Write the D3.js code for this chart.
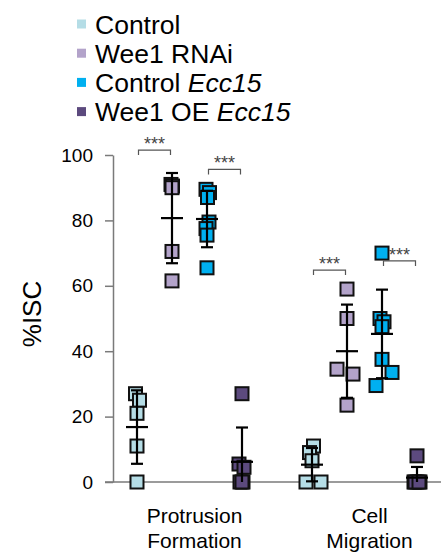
<!DOCTYPE html>
<html><head><meta charset="utf-8">
<script src="https://cdn.jsdelivr.net/npm/d3@7"></script>
<style>
html,body{margin:0;padding:0;background:#fff;}
svg{display:block;font-family:"Liberation Sans",Arial,sans-serif;}
</style></head>
<body>
<svg id="chart" width="441" height="560"></svg>
<script>
// ---- data ----
const categories = ["Protrusion Formation", "Cell Migration"];
const categoryLines = [["Protrusion", "Formation"], ["Cell", "Migration"]];
const seriesNames = ["Control", "Wee1 RNAi", "Control Ecc15", "Wee1 OE Ecc15"];
const legendPlain = ["Control", "Wee1 RNAi", "Control ", "Wee1 OE "];
const legendItalic = ["", "", "Ecc15", "Ecc15"];
const seriesColors = ["#b5dde6", "#b3a3ca", "#00b0f0", "#5c4a7e"];
// values per series: [Protrusion Formation, Cell Migration]
const controlValues     = [[27, 25, 21, 11, 0], [11, 9, 6.5, 0, 0]];
const wee1RnaiValues    = [[91, 90.5, 90, 70.5, 61.5], [59, 50, 34.5, 33, 23.5]];
const controlEccValues  = [[89.5, 88.5, 87, 79.5, 77.5, 75.5, 65.5], [70, 50, 49, 47.5, 37.5, 33.5, 29.5]];
const wee1OeEccValues   = [[27, 5.5, 4.5, 0, 0, 0], [8, 0, 0, 0, 0, 0]];
const yTicks = [0, 20, 40, 60, 80, 100];
const sigCategory = ["Protrusion Formation", "Protrusion Formation", "Cell Migration", "Cell Migration"];
const sigFrom = ["Control", "Control Ecc15", "Control", "Control Ecc15"];
const sigTo = ["Wee1 RNAi", "Wee1 OE Ecc15", "Wee1 RNAi", "Wee1 OE Ecc15"];
const sigLevel = [101.5, 95.6, 64.8, 67.6];
const sigLabel = ["***", "***", "***", "***"];

const allValues = [controlValues, wee1RnaiValues, controlEccValues, wee1OeEccValues];

// ---- layout (horizontal jitter of overlapping squares, px) ----
const jitter = [
  [[-1.5, 2.5, 0, 0, 0], [1.5, -2.5, 0, -6, 9]],
  [[-1, 0.5, 0, 0, 0], [0, 0, -10, 6, 0]],
  [[-1, 2.5, 0.5, 2, -1, 0, 0], [0, -2, 2, 0, 0, 10, -6]],
  [[0, -3, 2, -2, 1, 0], [0, -3, 3, 0, -2, 2]]
];

const svg = d3.select("#chart");
const font = '"Liberation Sans",Arial,sans-serif';

const y = d3.scaleLinear().domain([0, 100]).range([482, 155]);
const x0 = d3.scaleBand().domain(categories).range([102, 452]).padding(0);
const x1 = d3.scalePoint().domain(seriesNames).range([-52.5, 52.5]);
const xPos = (cat, s) => x0(cat) + x0.bandwidth() / 2 + x1(s);

// ---- axes ----
const axisColor = "#7a7a7a";
const axisX = 113;
svg.append("line").attr("x1", 105).attr("x2", 441).attr("y1", y(0)).attr("y2", y(0))
  .attr("stroke", axisColor).attr("stroke-width", 1.5);
const yAxis = d3.axisLeft(y).tickValues(yTicks).tickSize(8).tickPadding(12).tickSizeOuter(0);
const gy = svg.append("g").attr("transform", `translate(${axisX},0)`).call(yAxis);
gy.select(".domain").attr("stroke", axisColor).attr("stroke-width", 1.5);
gy.selectAll(".tick line").attr("stroke", axisColor).attr("stroke-width", 1.5);
gy.selectAll(".tick text").attr("fill", "#000").attr("font-size", 19).attr("font-family", font);

svg.append("text").attr("transform", `translate(41,314) rotate(-90)`)
  .attr("text-anchor", "middle").attr("font-size", 26).attr("font-family", font)
  .text("%ISC");

// category labels
categories.forEach((cat, i) => {
  const t = svg.append("text").attr("text-anchor", "middle").attr("font-size", 21).attr("font-family", font);
  categoryLines[i].forEach((ln, j) => {
    t.append("tspan").attr("x", x0(cat) + x0.bandwidth() / 2 + 5).attr("y", 523 + j * 25).text(ln);
  });
});

// ---- points ----
const sq = 13;
seriesNames.forEach((s, si) => {
  categories.forEach((cat, ci) => {
    const vals = allValues[si][ci];
    svg.append("g").selectAll("rect").data(vals).join("rect")
      .attr("x", (d, k) => xPos(cat, s) + jitter[si][ci][k] - sq / 2)
      .attr("y", d => y(d) - sq / 2)
      .attr("width", sq).attr("height", sq)
      .attr("fill", seriesColors[si]).attr("stroke", "#111").attr("stroke-width", 2);
  });
});

// ---- mean +/- SD ----
seriesNames.forEach((s, si) => {
  categories.forEach((cat, ci) => {
    const vals = allValues[si][ci];
    const m = d3.mean(vals), sd = d3.deviation(vals);
    const cx = xPos(cat, s);
    const top = m + sd, bot = Math.max(0, m - sd);
    const g = svg.append("g").attr("stroke", "#000").attr("stroke-width", 2.2);
    g.append("line").attr("x1", cx).attr("x2", cx).attr("y1", y(top)).attr("y2", y(bot));
    g.append("line").attr("x1", cx - 11).attr("x2", cx + 11).attr("y1", y(m)).attr("y2", y(m));
    g.append("line").attr("x1", cx - 6).attr("x2", cx + 6).attr("y1", y(top)).attr("y2", y(top));
    if (m - sd > 0) g.append("line").attr("x1", cx - 6).attr("x2", cx + 6).attr("y1", y(bot)).attr("y2", y(bot));
  });
});

// ---- significance ----
sigLevel.forEach((lv, i) => {
  const a = xPos(sigCategory[i], sigFrom[i]), b = xPos(sigCategory[i], sigTo[i]);
  const mid = (a + b) / 2;
  const x1b = mid - 16, x2b = mid + 16, yy = y(lv);
  svg.append("path").attr("d", `M${x1b},${yy + 5}V${yy}H${x2b}V${yy + 5}`)
    .attr("fill", "none").attr("stroke", "#555").attr("stroke-width", 1.2);
  svg.append("text").attr("x", mid).attr("y", yy).attr("text-anchor", "middle")
    .attr("font-size", 18).attr("font-family", font).attr("fill", "#444").text(sigLabel[i]);
});

// ---- legend ----
seriesNames.forEach((s, i) => {
  const cy = 24 + i * 29.2;
  svg.append("rect").attr("x", 77).attr("y", cy - 4.5).attr("width", 9).attr("height", 9).attr("fill", seriesColors[i]);
  const t = svg.append("text").attr("x", 95).attr("y", cy + 9.5).attr("font-size", 26.5).attr("font-family", font);
  t.append("tspan").text(legendPlain[i]);
  if (legendItalic[i]) t.append("tspan").attr("font-style", "italic").text(legendItalic[i]);
});
</script>
</body></html>
